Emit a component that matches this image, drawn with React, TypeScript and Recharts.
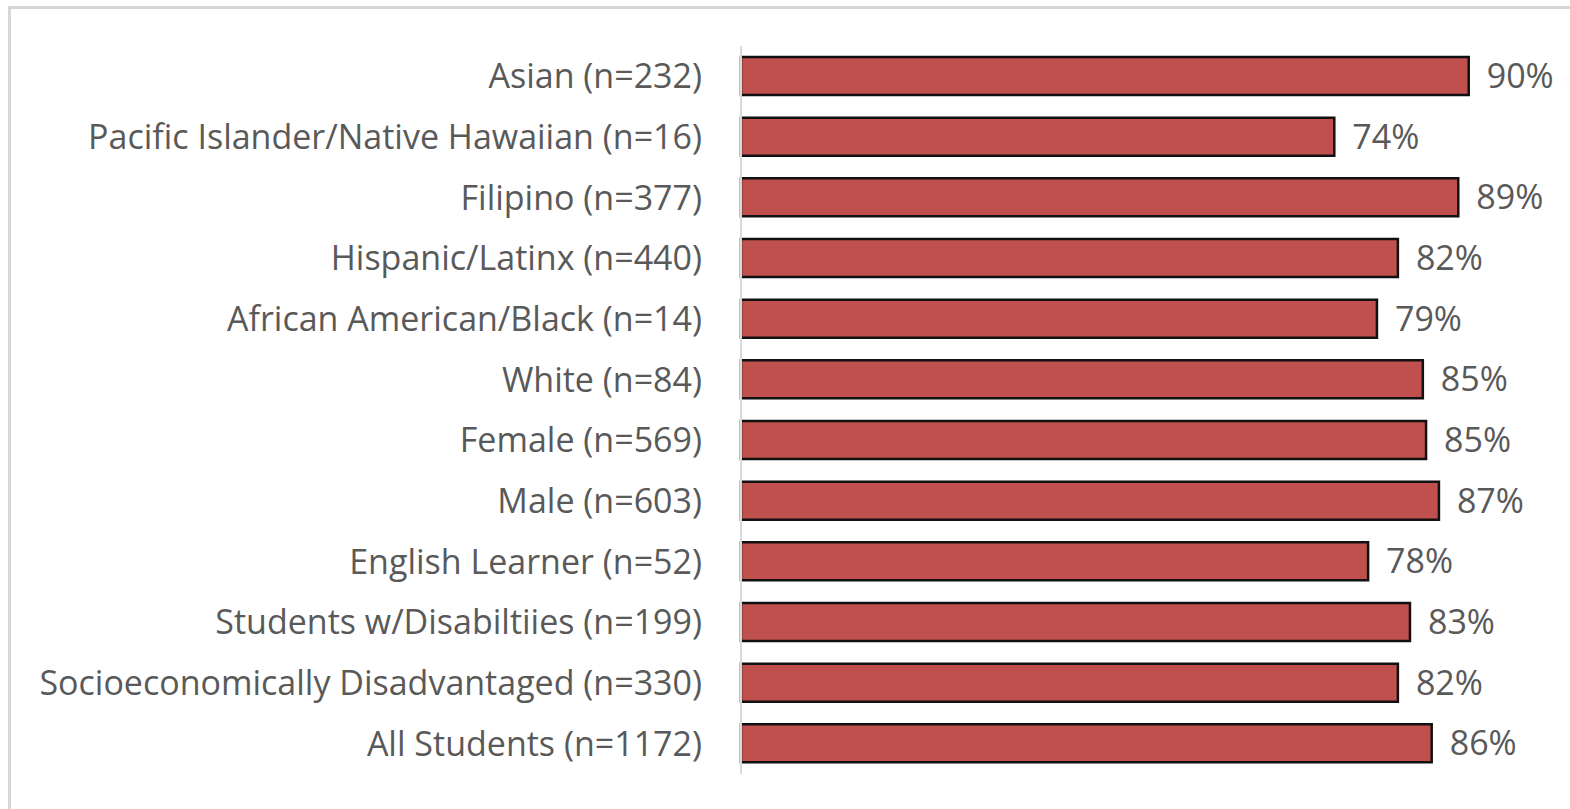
import React from "react";
import { BarChart, Bar, XAxis, YAxis, LabelList } from "recharts";

const categories = [
  "Asian (n=232)",
  "Pacific Islander/Native Hawaiian (n=16)",
  "Filipino (n=377)",
  "Hispanic/Latinx (n=440)",
  "African American/Black (n=14)",
  "White (n=84)",
  "Female (n=569)",
  "Male (n=603)",
  "English Learner (n=52)",
  "Students w/Disabiltiies (n=199)",
  "Socioeconomically Disadvantaged (n=330)",
  "All Students (n=1172)",
];

const percentages = [90.4, 73.7, 89.1, 81.6, 79.0, 84.7, 85.1, 86.7, 77.9, 83.1, 81.6, 85.8];

const data = categories.map((name, i) => ({ name, value: percentages[i] }));

const FONT = "'Open Sans', sans-serif";
const TEXT = "#595959";

export default function App() {
  return (
    <div style={{ position: "absolute", left: 0, top: 0, width: 1570, height: 809, background: "#fff", overflow: "hidden" }}>
      <div
        style={{
          position: "absolute",
          left: 8,
          top: 6,
          width: 1600,
          height: 900,
          borderTop: "3px solid #d6d6d6",
          borderLeft: "3px solid #d6d6d6",
        }}
      />
      <div style={{ position: "absolute", left: 0, top: 0 }}>
        <BarChart
          width={1570}
          height={809}
          data={data}
          layout="vertical"
          margin={{ top: 46, right: 24, bottom: 35, left: 0 }}
        >
          <XAxis type="number" domain={[0, 100]} hide />
          <YAxis
            type="category"
            dataKey="name"
            width={741}
            tickLine={false}
            tickSize={0}
            tickMargin={39}
            axisLine={{ stroke: "#d9d9d9", strokeWidth: 2 }}
            tick={{ fill: TEXT, fontSize: 34, fontFamily: FONT }}
            interval={0}
          />
          <Bar
            dataKey="value"
            fill="#C0504D"
            stroke="#111"
            strokeWidth={2.5}
            barSize={38}
            isAnimationActive={false}
          >
            <LabelList
              dataKey="value"
              position="right"
              offset={18}
              formatter={(v: number) => `${Math.round(v)}%`}
              style={{ fill: TEXT, fontSize: 34, fontFamily: FONT }}
            />
          </Bar>
        </BarChart>
      </div>
    </div>
  );
}
